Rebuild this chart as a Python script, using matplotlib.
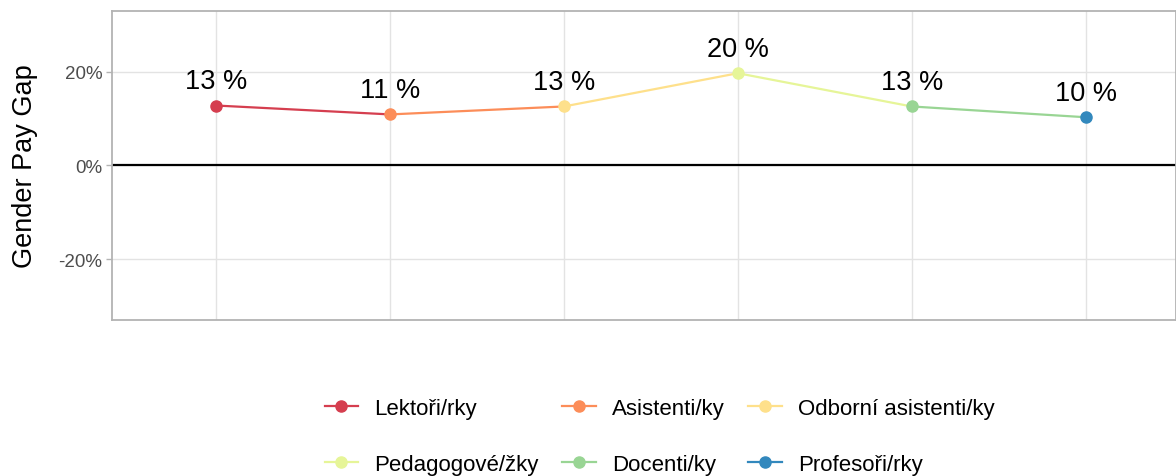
import matplotlib
matplotlib.use("Agg")
import matplotlib.pyplot as plt
from matplotlib.lines import Line2D

plt.rcParams['font.family'] = ['Liberation Sans', 'DejaVu Sans']

# data
categories = ['Lektoři/rky', 'Asistenti/ky', 'Odborní asistenti/ky',
              'Pedagogové/žky', 'Docenti/ky', 'Profesoři/rky']
gap = [12.8, 10.9, 12.6, 19.7, 12.6, 10.3]
labels = ['13 %', '11 %', '13 %', '20 %', '13 %', '10 %']
colors = ['#D53E4F', '#FC8D59', '#FEE08B', '#E6F598', '#99D594', '#3288BD']
yticks = [-20, 0, 20]
ytick_labels = ['-20%', '0%', '20%']

fig = plt.figure(figsize=(11.76, 4.77), dpi=100)
ax = fig.add_axes([0.0952, 0.327, 0.9048, 0.648])

x = list(range(1, len(categories) + 1))

# segments take the colour of their starting point
for i in range(len(x) - 1):
    ax.plot(x[i:i + 2], gap[i:i + 2], color=colors[i], lw=1.6,
            solid_capstyle='round', zorder=3)
for xi, yi, c, lab in zip(x, gap, colors, labels):
    ax.plot(xi, yi, 'o', color=c, ms=8, zorder=4)
    ax.annotate(lab, (xi, yi), xytext=(0, 8), textcoords='offset points',
                ha='center', va='bottom', fontsize=19.5, color='black')

ax.axhline(0, color='black', lw=1.6, zorder=2)

ax.set_xlim(0.4, 6.52)
ax.set_ylim(-33, 33)
ax.set_xticks(x)
ax.set_xticklabels([])
ax.tick_params(axis='x', length=0)
ax.set_yticks(yticks)
ax.set_yticklabels(ytick_labels)
ax.tick_params(axis='y', length=4, width=1, color='#b3b3b3',
               labelsize=13.5, labelcolor='#4d4d4d', pad=3)
ax.grid(True, color='#e3e3e3', lw=1, zorder=0)
ax.set_axisbelow(True)
for s in ax.spines.values():
    s.set_color('#b3b3b3')
    s.set_linewidth(1.3)
fig.text(25 / 1176, 1 - 166 / 477, 'Gender Pay Gap', rotation=90,
         ha='center', va='center', fontsize=19.5)

handles = [Line2D([], [], color=c, marker='o', ms=8, lw=1.6) for c in colors]
order = [0, 3, 1, 4, 2, 5]
fig.legend([handles[i] for i in order], [categories[i] for i in order],
           ncol=3, loc='center', bbox_to_anchor=(0.561, 0.083),
           frameon=False, fontsize=16, handlelength=1.5, handletextpad=0.75,
           columnspacing=1.05, labelspacing=1.6)

fig.savefig('out.png', dpi=100)
